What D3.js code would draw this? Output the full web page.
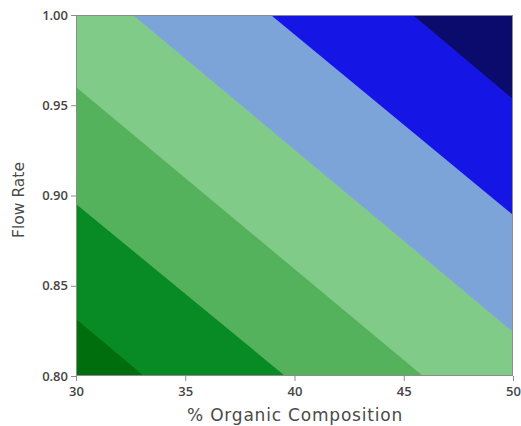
<!DOCTYPE html>
<html>
<head>
<meta charset="utf-8">
<script src="https://cdn.jsdelivr.net/npm/d3@7"></script>
<style>
  html, body { margin: 0; padding: 0; background: #fff; }
  svg text { font-family: "Open Sans", "DejaVu Sans", sans-serif; }
  svg text.axis-title { font-family: "DejaVu Sans", sans-serif; }
</style>
</head>
<body>
<svg id="chart" width="521" height="426"></svg>
<script>
// Axis ranges and tick values
const organicTicks = [30, 35, 40, 45, 50];
const flowTicks = [0.80, 0.85, 0.90, 0.95, 1.00];

// Contour band fills, from lowest response level to highest
const bandColors = ["#006e0c", "#088a24", "#55b25c", "#80cb88", "#7da4d9", "#1515e6", "#0b0b6e"];

// Each contour boundary as two points (% organic, flow rate) where it meets the plot edges
const boundaryStart = [[30, 0.8316], [30, 0.8953], [30, 0.9601], [32.61, 1.00], [38.92, 1.00], [45.42, 1.00]];
const boundaryEnd   = [[33.11, 0.80], [39.57, 0.80], [45.88, 0.80], [50, 0.8244], [50, 0.8892], [50, 0.9535]];

const svg = d3.select("#chart");
const plot = { left: 76, top: 15, right: 513, bottom: 376 };

const x = d3.scaleLinear().domain([30, 50]).range([plot.left, plot.right]);
const y = d3.scaleLinear().domain([0.80, 1.00]).range([plot.bottom, plot.top]);

svg.append("clipPath").attr("id", "plotClip")
  .append("rect")
  .attr("x", plot.left).attr("y", plot.top)
  .attr("width", plot.right - plot.left).attr("height", plot.bottom - plot.top);

const bands = svg.append("g").attr("clip-path", "url(#plotClip)");

// Lowest band fills the whole plot; each boundary then paints the region beyond it
bands.append("rect")
  .attr("x", plot.left).attr("y", plot.top)
  .attr("width", plot.right - plot.left).attr("height", plot.bottom - plot.top)
  .attr("fill", bandColors[0]);

const far = 3000;
boundaryStart.forEach((s, i) => {
  const e = boundaryEnd[i];
  const p1 = [x(s[0]), y(s[1])];
  const p2 = [x(e[0]), y(e[1])];
  const len = Math.hypot(p2[0] - p1[0], p2[1] - p1[1]);
  const d = [(p2[0] - p1[0]) / len, (p2[1] - p1[1]) / len];
  const n = [d[1], -d[0]]; // points toward the upper right
  const a = [p1[0] - d[0] * far, p1[1] - d[1] * far];
  const b = [p2[0] + d[0] * far, p2[1] + d[1] * far];
  const pts = [a, b, [b[0] + n[0] * far, b[1] + n[1] * far], [a[0] + n[0] * far, a[1] + n[1] * far]];
  bands.append("path")
    .attr("d", "M" + pts.map(p => p.join(",")).join("L") + "Z")
    .attr("fill", bandColors[i + 1]);
});

// Frame
svg.append("rect")
  .attr("x", plot.left + 0.5).attr("y", plot.top + 0.5)
  .attr("width", plot.right - plot.left - 1).attr("height", plot.bottom - plot.top - 1)
  .attr("fill", "none").attr("stroke", "#8c8c8c").attr("stroke-width", 1);

// Axes
const xAxis = svg.append("g")
  .attr("transform", `translate(0,${plot.bottom})`)
  .call(d3.axisBottom(x).tickValues(organicTicks).tickFormat(d3.format("d")).tickSize(5).tickSizeOuter(0));
const yAxis = svg.append("g")
  .attr("transform", `translate(${plot.left},0)`)
  .call(d3.axisLeft(y).tickValues(flowTicks).tickFormat(d3.format(".2f")).tickSize(5).tickSizeOuter(0));

[xAxis, yAxis].forEach(g => {
  g.select(".domain").remove();
  g.selectAll(".tick line").attr("stroke", "#8c8c8c");
  g.selectAll(".tick text")
    .attr("fill", "#454545")
    .style("font-size", "13px")
    .style("font-weight", "600");
});
xAxis.selectAll(".tick text").attr("dy", "0.9em");
yAxis.selectAll(".tick text").attr("x", -8);

// Axis titles
svg.append("text")
  .attr("class", "axis-title")
  .attr("x", 295)
  .attr("y", 421)
  .attr("text-anchor", "middle")
  .attr("fill", "#4a4a4a")
  .style("font-size", "17px")
  .style("letter-spacing", "0.8px")
  .text("% Organic Composition");

svg.append("text")
  .attr("class", "axis-title")
  .attr("transform", "translate(24,200) rotate(-90)")
  .attr("text-anchor", "middle")
  .attr("fill", "#4a4a4a")
  .style("font-size", "15.5px")
  .text("Flow Rate");
</script>
</body>
</html>
